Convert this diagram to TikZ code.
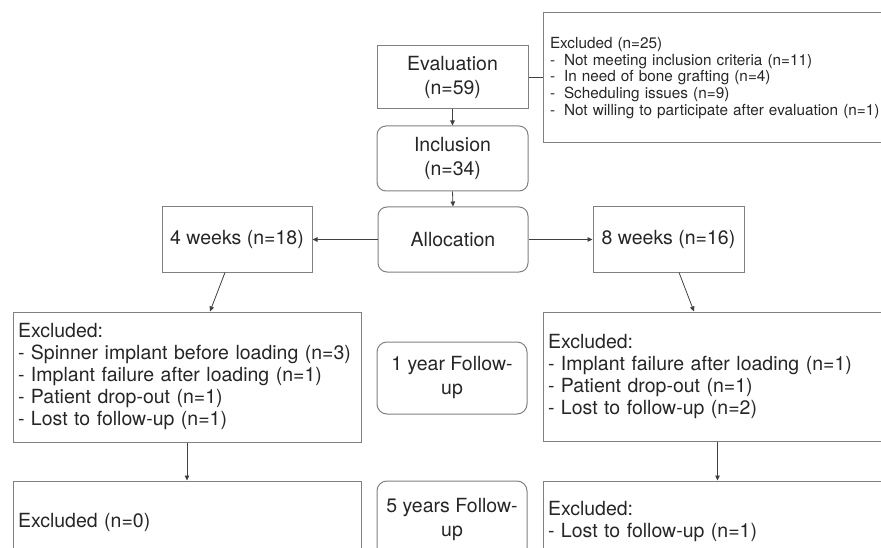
\documentclass[tikz,border=0pt]{standalone}
\usepackage{fontspec}
\setmainfont{TeX Gyre Heros}
\usetikzlibrary{arrows.meta}
\begin{document}
\begin{tikzpicture}[x=1pt,y=-1pt,
  box/.style={draw=black!50, line width=1pt, text=black!85, inner sep=0pt,
    font=\fontsize{19.5}{24}\selectfont, align=center},
  rbox/.style={box, rounded corners=9pt},
  lbox/.style={box, align=left, inner xsep=5pt, font=\fontsize{19.5}{22}\selectfont},
  arr/.style={draw=black!75, line width=0.8pt, -{Triangle[length=5pt,width=4.5pt]}},
  conn/.style={draw=black!75, line width=0.8pt},
]
\useasboundingbox (0,0) rectangle (881,548);
\clip (0,0) rectangle (881,548);

% top row
\node[box, minimum width=151pt, minimum height=63pt] (eval) at (452.5,77.5) {Evaluation\\(n=59)};
\node[box, align=left, inner xsep=7pt, text width=348pt, minimum width=362pt, minimum height=130pt,
  font=\fontsize{15.3}{16.8}\selectfont] (excl0) at (724,78)
  {Excluded (n=25)\\
   \makebox[14pt][l]{-}Not meeting inclusion criteria (n=11)\\
   \makebox[14pt][l]{-}In need of bone grafting (n=4)\\
   \makebox[14pt][l]{-}Scheduling issues (n=9)\\
   \makebox[14pt][l]{-}Not willing to participate after evaluation (n=1)};
\node[rbox, minimum width=151pt, minimum height=65pt] (incl) at (452.5,158.5) {Inclusion\\(n=34)};

% allocation row
\node[rbox, minimum width=150pt, minimum height=65pt] (alloc) at (453,239.5) {Allocation};
\node[box, minimum width=150pt, minimum height=65pt] (w4) at (237,239.5) {4 weeks (n=18)};
\node[box, minimum width=151pt, minimum height=65pt] (w8) at (668.5,239.5) {8 weeks (n=16)};

% 1 year row
\node[lbox, text width=338pt, minimum width=348pt, minimum height=130pt] (exclL) at (187,377)
  {Excluded:\\
   - Spinner implant before loading (n=3)\\
   - Implant failure after loading (n=1)\\
   - Patient drop-out (n=1)\\
   - Lost to follow-up (n=1)};
\node[rbox, rounded corners=10pt, minimum width=150pt, minimum height=72pt] (fu1) at (452,378) {1 year Follow-\\up};
\node[lbox, text width=339pt, minimum width=349pt, minimum height=129pt] (exclR) at (717.5,376.5)
  {Excluded:\\
   - Implant failure after loading (n=1)\\
   - Patient drop-out (n=1)\\
   - Lost to follow-up (n=2)};

% 5 years row
\node[lbox, text width=338pt, minimum width=348pt, minimum height=82pt] (exclLL) at (187,522)
  {Excluded (n=0)};
\node[rbox, rounded corners=10pt, minimum width=150pt, minimum height=77pt] (fu5) at (452,519.5) {5 years Follow-\\up};
\node[lbox, text width=339pt, minimum width=349pt, minimum height=82pt] (exclRR) at (717.5,522)
  {Excluded:\\
   - Lost to follow-up (n=1)};

% connectors
\draw[conn] (eval.east) -- (eval.east -| excl0.west);
\draw[arr] (eval.south) -- (incl.north);
\draw[arr] (incl.south) -- (alloc.north);
\draw[arr] (alloc.west) -- (w4.east);
\draw[arr] (alloc.east) -- (w8.west);
\draw[arr] ([xshift=-12pt]w4.south) -- ([xshift=23pt]exclL.north);
\draw[arr] ([xshift=10.5pt]w8.south) -- ([xshift=-23.5pt]exclR.north);
\draw[arr] (exclL.south) -- (exclLL.north);
\draw[arr] (exclR.south) -- (exclRR.north);
\end{tikzpicture}
\end{document}
